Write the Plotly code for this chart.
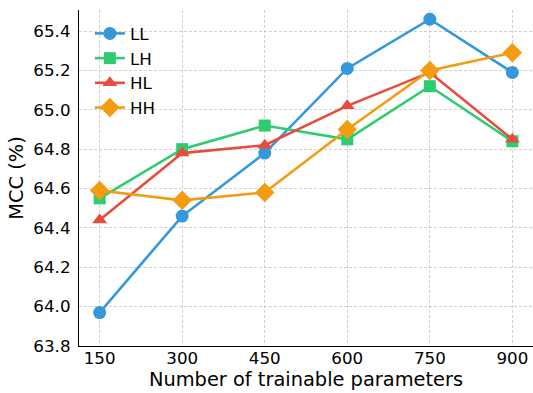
import plotly.graph_objects as go

params = [150, 300, 450, 600, 750, 900]
LL = [63.97, 64.46, 64.78, 65.21, 65.46, 65.19]
LH = [64.55, 64.80, 64.92, 64.85, 65.12, 64.84]
HL = [64.44, 64.78, 64.82, 65.02, 65.19, 64.85]
HH = [64.59, 64.54, 64.58, 64.90, 65.20, 65.29]
yticks = [63.8, 64.0, 64.2, 64.4, 64.6, 64.8, 65.0, 65.2, 65.4]

series = [
    ("LL", LL, "#3498db", "circle", 13),
    ("LH", LH, "#2ecc71", "square", 12),
    ("HL", HL, "#e74c3c", "triangle-up", 13),
    ("HH", HH, "#f39c12", "diamond", 15),
]

fig = go.Figure()
for name, vals, color, sym, sz in series:
    fig.add_trace(go.Scatter(
        x=params, y=vals, name=name, mode="lines+markers",
        line=dict(color=color, width=2.6),
        marker=dict(symbol=sym, size=sz, color=color, line=dict(width=0)),
    ))

grid = dict(showgrid=True, gridcolor="rgba(190,190,190,0.7)", griddash="3px,2px", gridwidth=0.8)

fig.update_layout(
    width=533, height=393,
    margin=dict(l=79, r=0, t=10, b=47),
    paper_bgcolor="white", plot_bgcolor="white",
    font=dict(family="DejaVu Sans", color="black", size=16.7),
    showlegend=True,
    legend=dict(x=0.024, y=0.982, xanchor="left", yanchor="top",
                bgcolor="rgba(255,255,255,0)", font=dict(size=16.7),
                tracegroupgap=0),
    xaxis=dict(
        title=dict(text="Number of trainable parameters", font=dict(size=19.4), standoff=0),
        range=[112.5, 937.5], tickvals=params, ticktext=[str(p) for p in params],
        showline=True, linecolor="black", linewidth=1.3, mirror=False,
        ticks="", ticklabelstandoff=-3,
        zeroline=False, automargin=False, **grid,
    ),
    yaxis=dict(
        title=dict(text="MCC (%)", font=dict(size=19.4), standoff=4),
        range=[63.8, 65.507], tickvals=yticks, ticktext=[f"{v:.1f}" for v in yticks],
        showline=True, linecolor="black", linewidth=1.3, mirror=False,
        ticks="", ticklabelstandoff=4,
        zeroline=False, automargin=False, **grid,
    ),
)

fig.write_html("out.html", config={"displayModeBar": False},
               post_script="document.body.style.margin='0';document.body.style.overflow='hidden';")
